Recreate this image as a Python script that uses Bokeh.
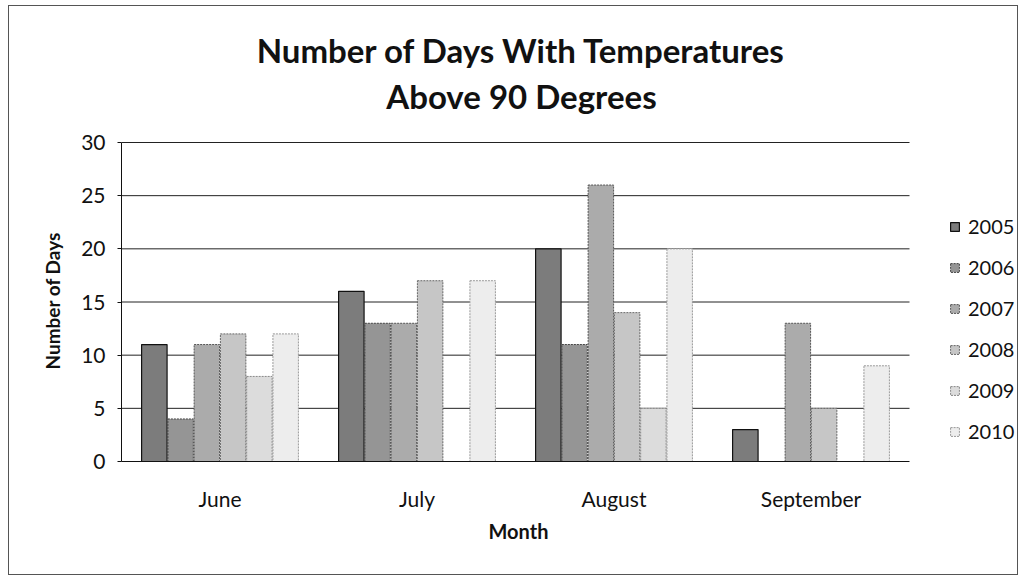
from bokeh.plotting import figure
from bokeh.models import (ColumnDataSource, Legend, LegendItem, Label, FixedTicker, Range1d, Title)
from bokeh.transform import dodge
from bokeh.embed import file_html
from bokeh.resources import INLINE

months = ["June", "July", "August", "September"]
years = ["2005", "2006", "2007", "2008", "2009", "2010"]
y2005 = [11, 16, 20, 3]
y2006 = [4, 13, 11, 0]
y2007 = [11, 13, 26, 13]
y2008 = [12, 17, 14, 5]
y2009 = [8, 0, 5, 0]
y2010 = [12, 17, 20, 9]
series = [y2005, y2006, y2007, y2008, y2009, y2010]
fills = ["#7c7c7c", "#959595", "#ababab", "#c6c6c6", "#dcdcdc", "#ededed"]
lines = ["#111111", "#444444", "#555555", "#666666", "#888888", "#999999"]
y_ticks = list(range(0, 31, 5))
title_lines = ["Number of Days With Temperatures", "Above 90 Degrees"]
x_title = "Month"
y_title = "Number of Days"

FONT = "Lato"

centers = [i + 0.5 for i in range(len(months))]
data = {"xc": centers, "month": months}
for yr, vals in zip(years, series):
    data[yr] = vals
src = ColumnDataSource(data)

# layout (pixels)
W, H = 1010, 570
ML, MR, MT, MB = 112, 0, 0, 115
frame_w = W - ML - MR
frame_h = H - MT - MB
plot_w_px = 788          # width of the category area
plot_h_px = 319          # height of the 0..30 value area
cat_px = plot_w_px / len(months)
y_px = plot_h_px / y_ticks[-1]
x_end = frame_w / cat_px
y_end = frame_h / y_px

p = figure(x_range=Range1d(0, x_end), y_range=Range1d(0, y_end),
           width=W, height=H, output_backend="svg", toolbar_location=None,
           min_border_left=ML, min_border_right=MR, min_border_top=MT, min_border_bottom=MB)
p.styles = {"border": "1px solid #555", "margin": "5px 0 0 8px"}
p.outline_line_color = None
p.background_fill_color = "white"
p.border_fill_color = "white"
p.xgrid.grid_line_color = None
p.ygrid.grid_line_color = None

# horizontal gridlines limited to the plot area
gy = y_ticks[1:]
p.segment(x0=[0] * len(gy), x1=[len(months)] * len(gy), y0=gy, y1=gy,
          line_color="#222222", line_width=1)

w = 0.8 / 6
items = []
for i, yr in enumerate(years):
    off = -0.4 + w * (i + 0.5)
    r = p.vbar(x=dodge("xc", off), top=yr, width=w * 0.97, source=src,
               fill_color=fills[i], line_color=lines[i], line_width=1.2 if i == 0 else 1,
               line_dash="solid" if i == 0 else "2 1")
    items.append(LegendItem(label=yr, renderers=[r]))

legend = Legend(items=items, location=(828, 18), orientation="vertical",
                label_text_font=FONT, label_text_font_size="20px", label_text_color="#111111",
                glyph_width=11, glyph_height=11, label_height=22, spacing=17,
                padding=0, margin=0, border_line_color=None, background_fill_alpha=0,
                label_standoff=8)
p.add_layout(legend, "center")

# two-line chart title, centred over the chart
title_cx_px = 400                 # from left of plot area
title_cy_px = [412, 366]          # above the value axis baseline
for txt, cy in zip(title_lines, title_cy_px):
    p.add_layout(Label(x=title_cx_px / cat_px, y=cy / y_px, text=txt,
                       text_align="center", text_baseline="middle",
                       text_font=FONT, text_font_size="33px", text_font_style="bold",
                       text_color="#111111"))

for ax in (p.xaxis, p.yaxis):
    ax.axis_line_color = "#111111"
    ax.major_label_text_font = FONT
    ax.major_label_text_font_size = "21px"
    ax.major_label_text_color = "#111111"
    ax.minor_tick_line_color = None

p.yaxis.ticker = FixedTicker(ticks=y_ticks)
p.yaxis.bounds = (0, y_ticks[-1])
p.yaxis.major_tick_in = 0
p.yaxis.major_tick_out = 4
p.yaxis.major_tick_line_color = "#111111"
p.yaxis.major_label_standoff = 12

p.xaxis.ticker = FixedTicker(ticks=centers)
p.xaxis.major_label_overrides = {c: m for c, m in zip(centers, months)}
p.xaxis.bounds = (0, len(months))
p.xaxis.major_tick_line_color = None
p.xaxis.major_label_standoff = 18

# axis titles (placed as panel titles so they centre on the value area)
p.add_layout(Title(text=x_title, align="left", offset=367, standoff=7,
                   text_font=FONT, text_font_size="20px", text_font_style="bold",
                   text_color="#111111"), "below")
p.add_layout(Title(text=y_title, align="left", offset=92, standoff=30,
                   text_font=FONT, text_font_size="19px", text_font_style="bold",
                   text_color="#111111"), "left")

open("out.html", "w").write(file_html(p, INLINE))
